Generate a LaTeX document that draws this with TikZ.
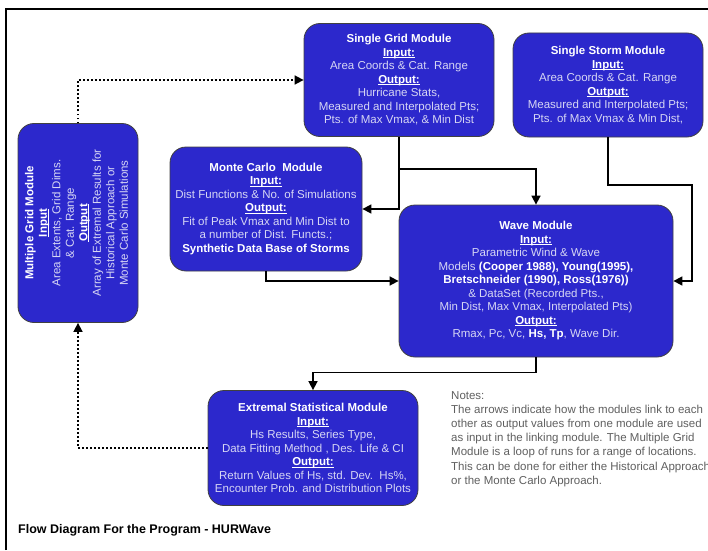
\documentclass[tikz,border=0pt]{standalone}
\usepackage{fontspec}
\setmainfont{Liberation Sans}
\usetikzlibrary{arrows.meta}
\definecolor{modblue}{RGB}{44,40,204}
\definecolor{modtext}{RGB}{214,214,244}
\definecolor{notegray}{RGB}{95,95,95}
\newcommand{\hd}[1]{{\color{white}\bfseries\setbox0=\hbox{#1}\rlap{\rule[-1.7pt]{\wd0}{0.7pt}}\box0}}
\newcommand{\tl}[1]{{\color{white}\textbf{#1}}}

\begin{document}
\begin{tikzpicture}[x=1pt, y=1pt,
  module/.style={draw=black!75, line width=0.8pt, fill=modblue, rounded corners=16pt,
    text=modtext, align=center, font=\fontsize{11.5}{13.5}\selectfont, inner sep=2pt},
  link/.style={line width=1.6pt, -{Triangle[length=9pt,width=9pt]}},
  loop/.style={link, dash pattern=on 1.6pt off 2.4pt}]

  \useasboundingbox (0,0) rectangle (708,550);

  % frame
  \draw[line width=2.5pt] (6,0) -- (6,541) -- (708,541);

  % modules
  \node[module, minimum width=190, minimum height=113] (sgrid) at (399,470)
    {\tl{Single Grid Module}\\ \hd{Input:}\\ Area Coords \& Cat. Range\\ \hd{Output:}\\
     Hurricane Stats,\\ Measured and Interpolated Pts;\\ Pts. of Max Vmax, \& Min Dist};
  \node[module, minimum width=190, minimum height=104] (sstorm) at (608,465)
    {\tl{Single Storm Module}\\ \hd{Input:}\\ Area Coords \& Cat. Range\\ \hd{Output:}\\
     Measured and Interpolated Pts;\\ Pts. of Max Vmax \& Min Dist,};
  \node[module, minimum width=120, minimum height=199] (mgrid) at (78,327)
    {\rotatebox{90}{\begin{tabular}{@{}c@{}}\tl{Multiple Grid Module}\\ \hd{Input}\\
     Area Extents, Grid Dims.\\ \& Cat. Range\\ \hd{Output}\\ Array of Extremal Results for\\
     Historical Approach or\\ Monte Carlo Simulations\end{tabular}}};
  \node[module, minimum width=192, minimum height=124] (monte) at (266,341)
    {\tl{Monte Carlo\ \ Module}\\ \hd{Input:}\\ Dist Functions \& No. of Simulations\\ \hd{Output:}\\
     Fit of Peak Vmax and Min Dist to\\ a number of Dist. Functs.;\\ \tl{Synthetic Data Base of Storms}};
  \node[module, minimum width=274, minimum height=152] (wave) at (536,269)
    {\tl{Wave Module}\\ \hd{Input:}\\ Parametric Wind \& Wave\\
     Models \tl{(Cooper 1988), Young(1995),}\\ \tl{Bretschneider (1990), Ross(1976))}\\
     \& DataSet (Recorded Pts.,\\ Min Dist, Max Vmax, Interpolated Pts)\\ \hd{Output:}\\
     Rmax, Pc, Vc, \tl{Hs, Tp}, Wave Dir.};
  \node[module, minimum width=210, minimum height=115] (extr) at (313,102)
    {\tl{Extremal Statistical Module}\\ \hd{Input:}\\ Hs Results, Series Type,\\
     Data Fitting Method , Des. Life \& CI\\ \hd{Output:}\\
     Return Values of Hs, std. Dev.\ \ Hs\%,\\ Encounter Prob. and Distribution Plots};

  % junctions
  \coordinate (gridsplit) at (399,381);
  \coordinate (stormturn) at (608,365);

  % links
  \draw[line width=1.6pt] (sgrid.south) -- (gridsplit);
  \draw[link] (gridsplit) -| (wave.north);
  \draw[link] (gridsplit) |- (monte.east);
  \draw[link] (sstorm.south) -- (stormturn) -| ++(84,-96) -- (wave.east);
  \draw[link] (monte.south) |- (wave.west);
  \draw[link] (wave.south) -- ++(0,-15) -| (extr.north);
  \draw[loop] (extr.west) -| (mgrid.south);
  \draw[loop] (mgrid.north) |- (sgrid.west);

  % notes and caption
  \node[anchor=north west, align=left, text=notegray, inner sep=0pt,
    font=\fontsize{11.5}{14.2}\selectfont] (notes) at (451,159)
    {Notes:\\ The arrows indicate how the modules link to each\\
     other as output values from one module are used\\
     as input in the linking module. The Multiple Grid\\
     Module is a loop of runs for a range of locations.\\
     This can be done for either the Historical Approach\\
     or the Monte Carlo Approach.};
  \node[anchor=base west, inner sep=0pt, font=\fontsize{12.5}{14}\selectfont\bfseries] (caption)
    at (18,17) {Flow Diagram For the Program - HURWave};

\end{tikzpicture}
\end{document}
